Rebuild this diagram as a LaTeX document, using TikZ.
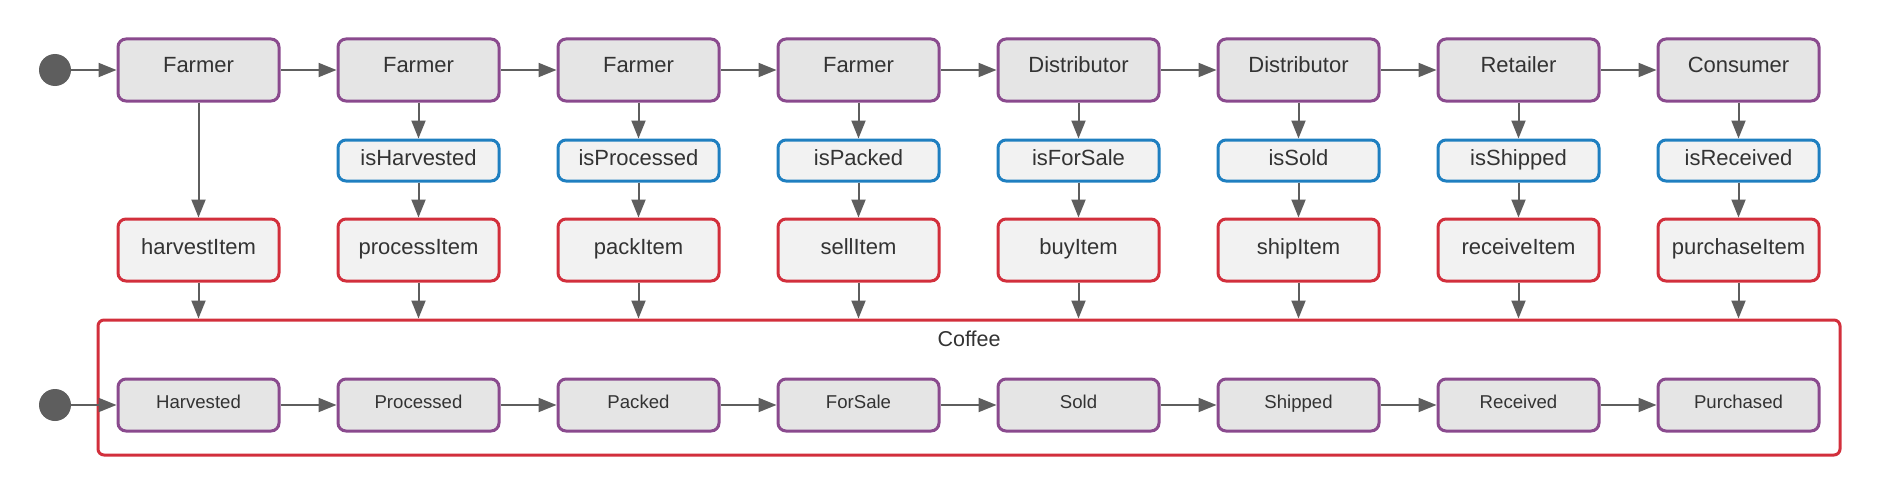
\documentclass[tikz,border=0pt]{standalone}
\usepackage{fontspec}
\setmainfont{Liberation Sans}
\usetikzlibrary{arrows.meta}
\definecolor{purp}{HTML}{8A4A8E}
\definecolor{bluec}{HTML}{1F7FC0}
\definecolor{redc}{HTML}{D22F3C}
\definecolor{fillA}{HTML}{E5E5E5}
\definecolor{fillB}{HTML}{F2F2F2}
\definecolor{txt}{HTML}{333333}
\definecolor{arrc}{HTML}{5E5E5E}
\tikzset{
  boxbase/.style={rounded corners=8pt, line width=3pt, inner sep=0pt, minimum width=161pt, text=txt},
  actor/.style={boxbase, draw=purp, fill=fillA, minimum height=62pt, font=\fontsize{22}{26}\selectfont, text height=15.8pt, text depth=10.5pt},
  cond/.style={boxbase, draw=bluec, fill=fillB, minimum height=41pt, font=\fontsize{22}{26}\selectfont, text height=15.8pt, text depth=5pt},
  func/.style={boxbase, draw=redc, fill=fillB, minimum height=62pt, font=\fontsize{22}{26}\selectfont, text height=15.8pt, text depth=7.4pt},
  state/.style={boxbase, draw=purp, fill=fillA, minimum height=52pt, font=\fontsize{18.6}{22}\selectfont, text height=13.3pt, text depth=5.4pt},
  container/.style={draw=redc, line width=3pt, rounded corners=6pt, minimum width=1742pt, minimum height=135pt, inner sep=0pt},
  startdot/.style={circle, fill=arrc, minimum size=32pt, inner sep=0pt},
  arr/.style={draw=arrc, line width=2pt, -{Triangle[length=18pt,width=14pt]}}
}
\begin{document}
\begin{tikzpicture}[x=1pt,y=-1pt]
\useasboundingbox (0,0) rectangle (1879,495);
% container
\node[container] (coffee) at (969,387.5) {};
\node[text=txt, font=\fontsize{21.5}{25}\selectfont, inner sep=0pt, anchor=base] (coffeelabel) at (969,346) {Coffee};
% start dots
\node[startdot] (st1) at (55,70) {};
\node[startdot] (st2) at (55,405) {};
% top row
\foreach \i/\t in {1/Farmer,2/Farmer,3/Farmer,4/Farmer,5/Distributor,6/Distributor,7/Retailer,8/Consumer}{
  \node[actor] (t\i) at ({198.5+220*(\i-1)},70) {\t};
}
% condition row
\foreach \i/\t in {2/isHarvested,3/isProcessed,4/isPacked,5/isForSale,6/isSold,7/isShipped,8/isReceived}{
  \node[cond] (b\i) at ({198.5+220*(\i-1)},160.5) {\t};
}
% function row
\foreach \i/\t in {1/harvestItem,2/processItem,3/packItem,4/sellItem,5/buyItem,6/shipItem,7/receiveItem,8/purchaseItem}{
  \node[func] (r\i) at ({198.5+220*(\i-1)},250) {\t};
}
% state row
\foreach \i/\t in {1/Harvested,2/Processed,3/Packed,4/ForSale,5/Sold,6/Shipped,7/Received,8/Purchased}{
  \node[state] (s\i) at ({198.5+220*(\i-1)},405) {\t};
}
% arrows
\draw[arr] (st1) -- (t1.west);
\draw[arr] (st2) -- (s1.west);
\foreach \i [evaluate=\i as \j using int(\i+1)] in {1,...,7}{
  \draw[arr] (t\i.east) -- (t\j.west);
  \draw[arr] (s\i.east) -- (s\j.west);
}
\draw[arr] (t1.south) -- (r1.north);
\foreach \i in {2,...,8}{
  \draw[arr] (t\i.south) -- (b\i.north);
  \draw[arr] (b\i.south) -- (r\i.north);
}
\foreach \i in {1,...,8}{
  \draw[arr] (r\i.south) -- (r\i.south |- coffee.north);
}
\end{tikzpicture}
\end{document}
